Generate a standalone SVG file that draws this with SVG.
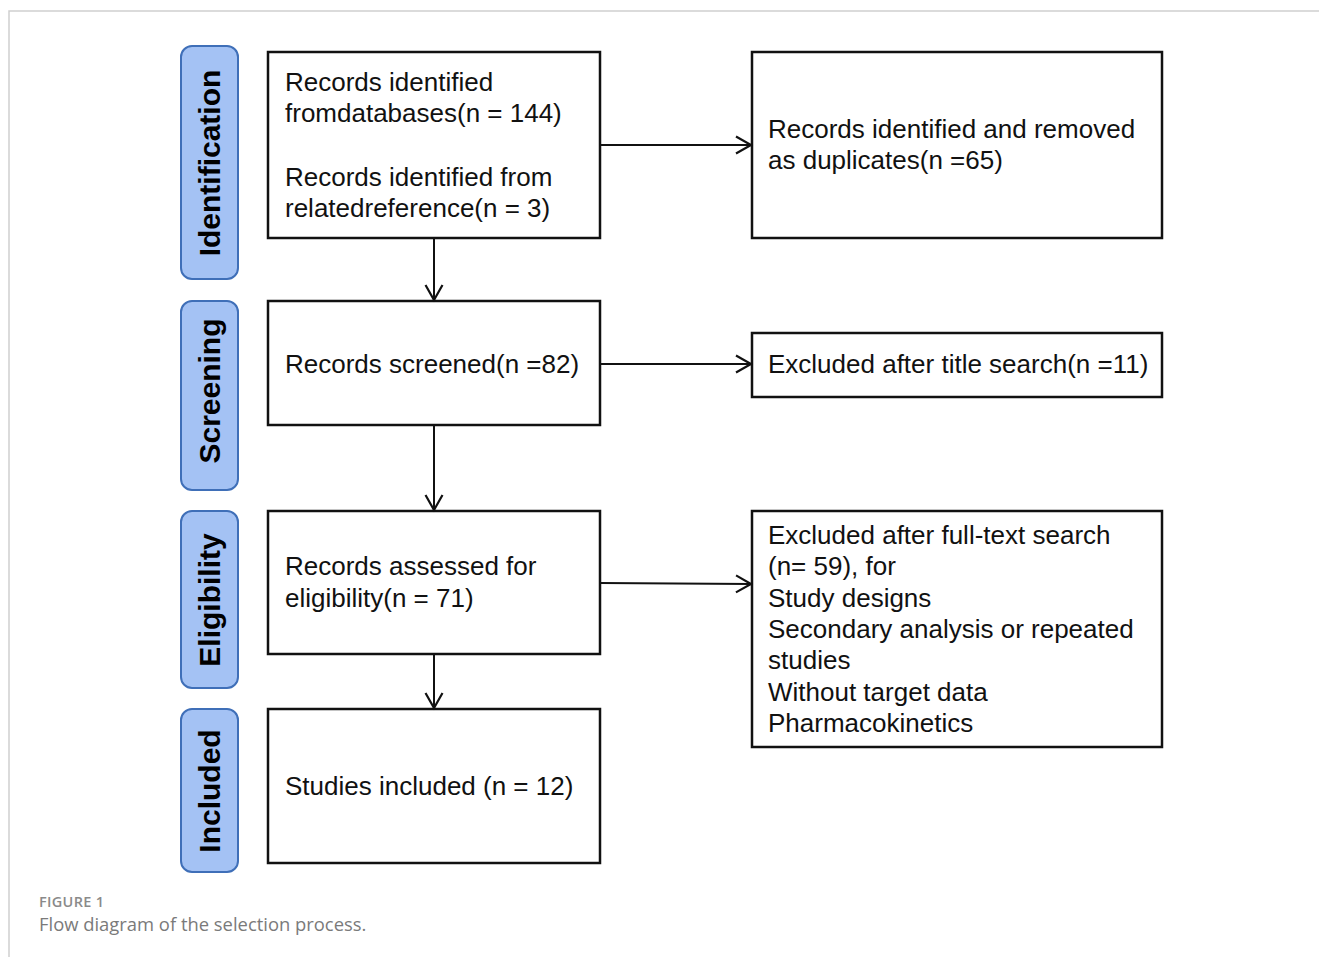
<svg xmlns="http://www.w3.org/2000/svg" width="1319" height="957" viewBox="0 0 1319 957">
<defs>
<style>
.frame{fill:none;stroke:#cfcfcf;stroke-width:1.5}
.stage rect{fill:#a4c2f4;stroke:#3f6fb8;stroke-width:2}
.stage text{font-family:"Liberation Sans",Arial,sans-serif;font-weight:bold;font-size:30px;fill:#000;text-anchor:middle}
.box rect{fill:#fff;stroke:#111;stroke-width:2.5}
.box text{font-family:"Liberation Sans",Arial,sans-serif;font-size:26px;fill:#111}
.conn line{stroke:#111;stroke-width:2;fill:none}
.cap1{font-family:"Open Sans",Lato,sans-serif;font-size:14.5px;font-weight:600;fill:#8a8a8a;letter-spacing:0.3px}
.cap2{font-family:"Open Sans",Lato,sans-serif;font-size:18.4px;fill:#7a7a7a}
</style>
<marker id="arr" viewBox="0 0 20 20" refX="17" refY="10" markerWidth="20" markerHeight="20" markerUnits="userSpaceOnUse" orient="auto">
<path d="M2,1.5 L17,10 L2,18.5" fill="none" stroke="#111" stroke-width="2.2"/>
</marker>
</defs>
<rect width="1319" height="957" fill="#fff"/>
<path class="frame" d="M9,957 V11 H1319"/>

<g id="stage-identification" class="stage"><rect x="181" y="46" width="57" height="233" rx="11"/><text transform="translate(220,163) rotate(-90)">Identification</text></g>
<g id="stage-screening" class="stage"><rect x="181" y="301" width="57" height="189" rx="11"/><text transform="translate(220,391) rotate(-90)">Screening</text></g>
<g id="stage-eligibility" class="stage"><rect x="181" y="511" width="57" height="177" rx="11"/><text transform="translate(220,600) rotate(-90)">Eligibility</text></g>
<g id="stage-included" class="stage"><rect x="181" y="709" width="57" height="163" rx="11"/><text transform="translate(220,791) rotate(-90)">Included</text></g>

<g id="identified" class="box"><rect x="268" y="52" width="332" height="186"/>
<text x="285" y="91">Records identified</text>
<text x="285" y="122">fromdatabases(n = 144)</text>
<text x="285" y="186">Records identified from</text>
<text x="285" y="217">relatedreference(n = 3)</text></g>
<g id="duplicates" class="box"><rect x="752" y="52" width="410" height="186"/>
<text x="768" y="138">Records identified and removed</text>
<text x="768" y="169">as duplicates(n =65)</text></g>
<g id="screened" class="box"><rect x="268" y="301" width="332" height="124"/>
<text x="285" y="373">Records screened(n =82)</text></g>
<g id="excluded-title" class="box"><rect x="752" y="333" width="410" height="64"/>
<text x="768" y="373">Excluded after title search(n =11)</text></g>
<g id="assessed" class="box"><rect x="268" y="511" width="332" height="143"/>
<text x="285" y="575">Records assessed for</text>
<text x="285" y="607">eligibility(n = 71)</text></g>
<g id="excluded-fulltext" class="box"><rect x="752" y="511" width="410" height="236"/>
<text x="768" y="544">Excluded after full-text search</text>
<text x="768" y="575">(n= 59), for</text>
<text x="768" y="607">Study designs</text>
<text x="768" y="638">Secondary analysis or repeated</text>
<text x="768" y="669">studies</text>
<text x="768" y="701">Without target data</text>
<text x="768" y="732">Pharmacokinetics</text></g>
<g id="included" class="box"><rect x="268" y="709" width="332" height="154"/>
<text x="285" y="795">Studies included (n = 12)</text></g>

<g id="connectors" class="conn">
<line x1="434" y1="238" x2="434" y2="300" marker-end="url(#arr)"/>
<line x1="434" y1="425" x2="434" y2="510" marker-end="url(#arr)"/>
<line x1="434" y1="654" x2="434" y2="708" marker-end="url(#arr)"/>
<line x1="600" y1="145" x2="751" y2="145" marker-end="url(#arr)"/>
<line x1="600" y1="364" x2="751" y2="364" marker-end="url(#arr)"/>
<line x1="600" y1="583" x2="751" y2="584" marker-end="url(#arr)"/>
</g>

<text class="cap1" x="39" y="907">FIGURE 1</text>
<text class="cap2" x="39" y="931">Flow diagram of the selection process.</text>
</svg>
